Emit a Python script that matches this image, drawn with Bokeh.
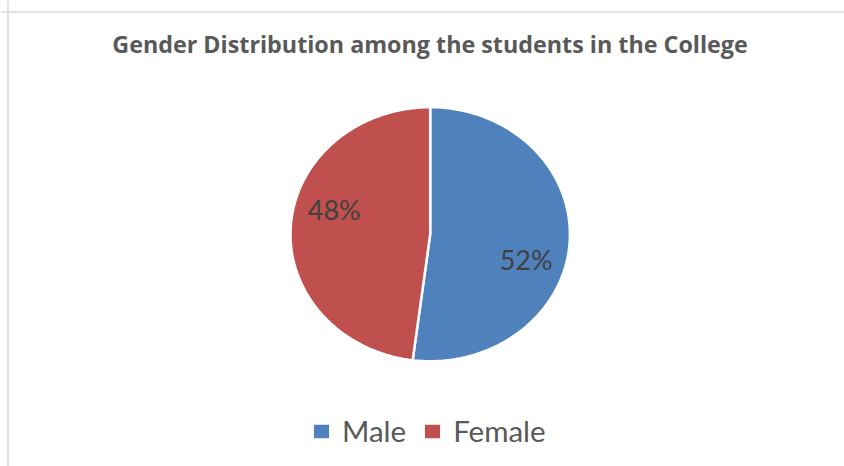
import numpy as np
from bokeh.plotting import figure
from bokeh.models import Range1d, Legend, LegendItem, Span, ColumnDataSource
from bokeh.core.properties import value
from bokeh.embed import file_html
from bokeh.resources import INLINE

# ---- data ----
title_text = "Gender Distribution among the students in the College"
categories = ["Male", "Female"]
shares = [52, 48]
colors = ["#4F81BD", "#C0504D"]

# ---- geometry (px per data unit, ellipse-like pie) ----
RX, RY = 139.7, 127.0
W, H = 844, 466
CX, CY = 429.7, 233.7  # pie centre in frame pixels (from top-left)

p = figure(width=W, height=H, output_backend="svg", toolbar_location=None,
           x_range=Range1d(-CX / RX, (W - CX) / RX),
           y_range=Range1d(-(H - CY) / RY, CY / RY),
           x_axis_type=None, y_axis_type=None, min_border=0)
p.grid.visible = False
p.outline_line_color = None
p.background_fill_color = "white"
p.border_fill_color = "white"

# border (top & left only visible in reference)
p.add_layout(Span(location=(CY - 11.5) / RY, dimension="width",
                  line_color="#d9d9d9", line_width=1.5))
p.add_layout(Span(location=(7.5 - CX) / RX, dimension="height",
                  line_color="#d9d9d9", line_width=1.5))

# ---- pie slices as patches ----
total = float(sum(shares))
fr = np.array(shares) / total
cum = np.concatenate([[0.0], np.cumsum(fr)])
xs, ys, mids = [], [], []
for i in range(len(shares)):
    t = np.linspace(cum[i], cum[i + 1], 200)
    theta = np.pi / 2 - 2 * np.pi * t
    xs.append(list(np.concatenate([[0.0], np.cos(theta), [0.0]])))
    ys.append(list(np.concatenate([[0.0], np.sin(theta), [0.0]])))
    mids.append(np.pi / 2 - 2 * np.pi * (cum[i] + cum[i + 1]) / 2)

src = ColumnDataSource(dict(xs=xs, ys=ys, color=colors, label=categories))
r = p.patches("xs", "ys", source=src, fill_color="color",
              line_color="white", line_width=2.5)

# ---- data labels ----
rot = np.deg2rad(12.5)
lab_r = 0.715
lx = [lab_r * np.cos(m - rot) for m in mids]
ly = [lab_r * np.sin(m - rot) for m in mids]
ltxt = [f"{s}%" for s in shares]
p.text(x=lx, y=ly, text=ltxt, text_align="center", text_baseline="middle",
       text_font=value("Lato"), text_font_size="27px", text_color="#404040")

# ---- title ----
p.text(x=[(429.5 - CX) / RX], y=[(CY - 43.0) / RY], text=[title_text],
       text_align="center", text_baseline="middle",
       text_font=value("Open Sans"), text_font_style="bold",
       text_font_size="23.3px", text_color="#595959")

# ---- legend ----
legend = Legend(items=[LegendItem(label=c, renderers=[r], index=i)
                       for i, c in enumerate(categories)],
                orientation="horizontal", location=(310, 18),
                glyph_width=22, glyph_height=20, label_standoff=10, spacing=15,
                padding=0, margin=0, border_line_color=None,
                background_fill_alpha=0, label_text_font="Lato",
                label_text_font_size="29.5px", label_text_color="#595959",
                label_text_baseline="middle")
p.add_layout(legend, "center")

open("out.html", "w").write(file_html(p, INLINE))
